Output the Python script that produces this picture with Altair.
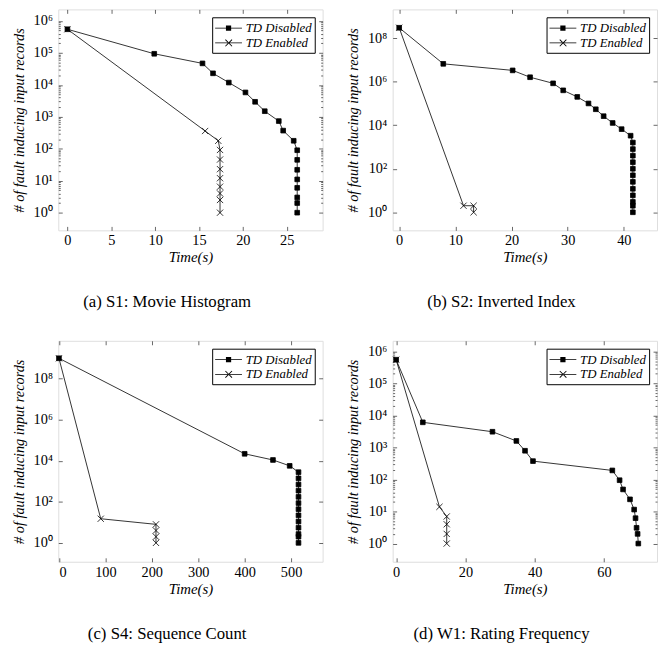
import altair as alt
import pandas as pd

S_DIS = "TD Disabled"
S_EN = "TD Enabled"

# ---------------- data ----------------
# (a) S1: Movie Histogram
a_dis_t = [0, 9.9, 15.4, 16.6, 18.4, 20.3, 21.4, 22.5, 24.1, 24.6, 25.8, 26.2, 26.2, 26.2, 26.2, 26.2, 26.2, 26.2, 26.2]
a_dis_n = [5.5e5, 9.4e4, 4.7e4, 2.3e4, 1.18e4, 5.8e3, 2.95e3, 1.5e3, 735, 370, 178, 90, 45, 22, 11, 6, 3, 2, 1]
a_en_t = [0, 15.7, 17.2, 17.4, 17.4, 17.4, 17.4, 17.4, 17.4, 17.4, 17.4]
a_en_n = [5.5e5, 360, 178, 92, 46, 23, 12, 6.5, 4, 2.5, 1]

# (b) S2: Inverted Index
b_dis_t = [0, 7.85, 20.2, 23.3, 27.4, 29.2, 31.7, 33.7, 35.0, 36.4, 38.0, 39.6, 41.2,
           41.6, 41.6, 41.6, 41.6, 41.6, 41.6, 41.6, 41.6, 41.6, 41.6, 41.6, 41.6]
b_dis_n = [3e8, 6.6e6, 3.3e6, 1.6e6, 8.4e5, 4e5, 2e5, 1e5, 5.4e4, 2.6e4, 1.27e4, 6.6e3, 3.3e3,
           1600, 800, 400, 200, 100, 50, 25, 12, 6, 3, 2, 1]
b_en_t = [0, 11.45, 13.25, 13.25]
b_en_n = [3e8, 2, 2, 1]

# (c) S4: Sequence Count
c_dis_t = [0, 400, 461, 497, 516, 516, 516, 516, 516, 516, 516, 516, 516, 516, 516, 516, 516]
c_dis_n = [1e9, 2.2e4, 1.1e4, 5.7e3, 2.8e3, 1400, 700, 350, 175, 87, 44, 22, 11, 5.5, 2.7, 2, 1]
c_en_t = [0, 90, 209, 209, 209, 209]
c_en_n = [1e9, 15, 8, 4, 2, 1]

# (d) W1: Rating Frequency
d_dis_t = [0, 7.7, 27.8, 34.7, 37.2, 39.5, 62.4, 64.5, 65.5, 67.5, 68.7, 69.1, 69.4, 69.7, 69.9]
d_dis_n = [5.5e5, 6.1e3, 3.1e3, 1.6e3, 790, 375, 192, 95, 49, 24, 11.5, 6.2, 3.1, 2, 1]
d_en_t = [0, 12.5, 14.6, 14.6, 14.6, 14.6]
d_en_n = [5.5e5, 14, 7, 4, 2, 1]

captions = ["(a)  S1: Movie Histogram", "(b)  S2: Inverted Index",
            "(c)  S4: Sequence Count", "(d)  W1: Rating Frequency"]
x_domains = [[-1.04, 29.1], [-1.16, 45.9], [-1.4, 568], [-1.0, 75.3]]
y_domains = [[0.28, 2.3e6], [0.148, 2.09e9], [0.12, 7.1e9], [0.27, 2.14e6]]
x_ticks = [[0, 5, 10, 15, 20, 25], [0, 10, 20, 30, 40], [0, 100, 200, 300, 400, 500], [0, 20, 40, 60]]
y_major = [[1, 1e1, 1e2, 1e3, 1e4, 1e5, 1e6], [1, 1e2, 1e4, 1e6, 1e8],
           [1, 1e2, 1e4, 1e6, 1e8], [1, 1e1, 1e2, 1e3, 1e4, 1e5, 1e6]]
y_minor_on = [True, False, False, True]

SERIF = "Liberation Serif"
W, H = 268, 224

SQ = "M-0.75,-0.75H0.75V0.75H-0.75Z"
XX = "M-1,-1L1,1M1,-1L-1,1"
# legend symbols: a short line with the marker, all drawn as filled shapes
# (unit = 8px for symbolSize 256; line spans -1 .. 2.4, marker centred at 0.7)
LEG_SQ = "M-1,-0.05H2.4V0.05H-1Z M0.37,-0.33H1.03V0.33H0.37Z"
LEG_XX = ("M-1,-0.05H2.4V0.05H-1Z "
          "M0.26,-0.38L1.1,0.46L1.18,0.38L0.34,-0.46Z "
          "M1.1,-0.46L1.18,-0.38L0.34,0.46L0.26,0.38Z")

IS_MAJOR = "abs(log(datum.value)/LN10 - round(log(datum.value)/LN10)) < 0.01"
EXP = "round(log(datum.value)/LN10)"
SUP_EXPR = (IS_MAJOR + " ? '10' + substring('\u2070\u00b9\u00b2\u00b3\u2074\u2075\u2076\u2077\u2078\u2079', "
            + EXP + ", " + EXP + " + 1) : ''")
TICK_EXPR = IS_MAJOR + " ? -4 : -2"


def build_df(dis_t, dis_n, en_t, en_n):
    rows = []
    for i, (t, n) in enumerate(zip(dis_t, dis_n)):
        rows.append({"t": t, "n": n, "series": S_DIS, "order": i})
    for i, (t, n) in enumerate(zip(en_t, en_n)):
        rows.append({"t": t, "n": n, "series": S_EN, "order": i})
    return pd.DataFrame(rows)


def panel(idx, dis_t, dis_n, en_t, en_n):
    df = build_df(dis_t, dis_n, en_t, en_n)
    xs = alt.Scale(domain=x_domains[idx], nice=False, zero=False)
    ys = alt.Scale(type="log", domain=y_domains[idx], nice=False)
    yvals = list(y_major[idx])
    if y_minor_on[idx]:
        top = max(y_major[idx])
        minors = []
        for e in range(0, 7):
            for m in range(2, 10):
                v = m * 10 ** e
                if v < top:
                    minors.append(v)
        yvals = sorted(yvals + minors)

    common_tick = dict(tickColor="black", tickWidth=0.6, domain=False, grid=False)

    x_bottom = alt.Axis(orient="bottom", values=x_ticks[idx], title="Time(s)",
                        titleFont=SERIF, titleFontStyle="italic", titleFontWeight="normal",
                        titleFontSize=15, titleColor="black", titlePadding=3,
                        labelFont=SERIF, labelFontSize=14.5, labelColor="black",
                        labelPadding=7.5, tickSize={"expr": "-4"}, **common_tick)
    y_left = alt.Axis(orient="left", values=yvals, title="# of fault inducing input records",
                      titleFont=SERIF, titleFontStyle="italic", titleFontWeight="normal",
                      titleFontSize=14.5, titleColor="black", titlePadding=7,
                      labelFont=SERIF, labelFontSize=14.5, labelColor="black",
                      labelPadding=10, labelExpr=SUP_EXPR, labelOverlap=False,
                      tickSize={"expr": TICK_EXPR}, **common_tick)
    x_top = alt.Axis(orient="top", values=x_ticks[idx], title=None, labels=False,
                     maxExtent=0, minExtent=0,
                     tickSize={"expr": "-4"}, **common_tick)
    y_right = alt.Axis(orient="right", values=yvals, title=None, labels=False,
                       maxExtent=0, minExtent=0,
                       tickSize={"expr": TICK_EXPR}, **common_tick)

    lines = alt.Chart(df).mark_line(color="black", strokeWidth=0.8).encode(
        x=alt.X("t:Q", scale=xs, axis=x_bottom),
        y=alt.Y("n:Q", scale=ys, axis=y_left),
        detail="series:N",
        order="order:Q",
    )
    points = alt.Chart(df).mark_point(filled=True, color="black", stroke="black",
                                      strokeWidth=0.8, opacity=1, size=40).encode(
        x=alt.X("t:Q", scale=xs, axis=x_top),
        y=alt.Y("n:Q", scale=ys, axis=y_right),
        shape=alt.Shape("series:N", scale=alt.Scale(domain=[S_DIS, S_EN], range=[SQ, XX]),
                        legend=None),
    )
    legend_layer = alt.Chart(df).transform_filter("false").mark_point(
        filled=True, color="black", opacity=1).encode(
        x=alt.X("t:Q", scale=xs, axis=None),
        y=alt.Y("n:Q", scale=ys, axis=None),
        shape=alt.Shape("series:N", title=None,
                        scale=alt.Scale(domain=[S_DIS, S_EN], range=[LEG_SQ, LEG_XX]),
                        legend=alt.Legend(orient="top-right", offset=8, title=None,
                                          fillColor="white", strokeColor="black",
                                          padding=3, rowPadding=0,
                                          labelFont=SERIF, labelFontStyle="italic",
                                          labelFontSize=13, labelColor="black",
                                          labelOffset=15, symbolSize=256,
                                          symbolStrokeWidth=0,
                                          symbolFillColor="black")),
    )
    return alt.layer(lines, points, legend_layer).resolve_scale(
        shape="independent").resolve_axis(x="independent", y="independent").properties(
        width=W, height=H,
        title=alt.TitleParams(captions[idx], orient="bottom", frame="bounds", anchor="middle",
                              font=SERIF, fontSize=17, fontWeight="normal", color="black",
                              offset=30),
    )


pa = panel(0, a_dis_t, a_dis_n, a_en_t, a_en_n)
pb = panel(1, b_dis_t, b_dis_n, b_en_t, b_en_n)
pc = panel(2, c_dis_t, c_dis_n, c_en_t, c_en_n)
pd_ = panel(3, d_dis_t, d_dis_n, d_en_t, d_en_n)

chart = alt.vconcat(
    alt.hconcat(pa, pb, spacing=21),
    alt.hconcat(pc, pd_, spacing=21),
    spacing=29,
).properties(padding={"left": 2, "top": -4, "right": 0, "bottom": 0}).configure_view(
    stroke="black", strokeWidth=0.9
).configure(background="white")

chart.save("out.html", embed_options={"renderer": "svg", "actions": False})
